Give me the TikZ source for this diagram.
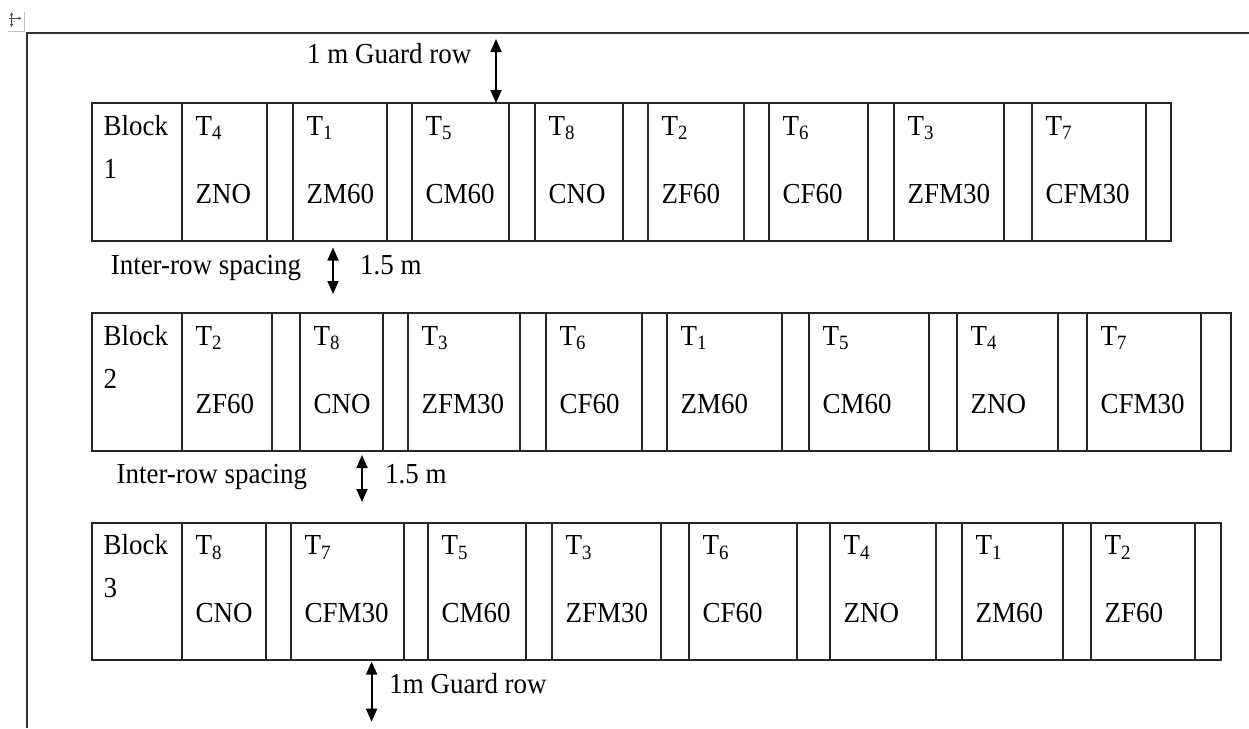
\documentclass[tikz,border=0pt]{standalone}
\usepackage{fontspec}
\setmainfont{Liberation Serif}
\usetikzlibrary{arrows.meta}
\begin{document}
\begin{tikzpicture}[x=1pt,y=-1pt,
  grid/.style={line width=1.6pt, draw=black!85},
  frame/.style={line width=1.6pt, draw=black!80},
  lab/.style={inner sep=0pt, anchor=base west, xscale=0.93,
    font=\fontsize{29}{34}\selectfont},
  dbl/.style={line width=1.8pt,
    {Triangle[length=13pt,width=11pt]}-{Triangle[length=13pt,width=11pt]}},
  handle/.style={line width=0.9pt, draw=black!70}]
\useasboundingbox (0,0) rectangle (1249,728);

% table move handle
\draw[line width=0.8pt, draw=black!25] (8.3,31.7) -- (24.3,31.7) -- (24.3,12);
\draw[handle, -{Triangle[length=3pt,width=3pt]}] (11.7,18.3) -- (11.7,12.3);
\draw[handle, -{Triangle[length=3pt,width=3pt]}] (11.7,18.3) -- (11.7,27);
\draw[handle, -{Triangle[length=3pt,width=3pt]}] (11.7,18.3) -- (21.5,18.3);
\draw[handle] (11.7,18.3) -- (8.5,18.3);

% outer frame
\draw[frame] (27,728) -- (27,33) -- (1249,33);

% ---------- Block 1 ----------
\draw[grid] (92,103) rectangle (1171,241);
\foreach \x in {182,267,293,387,412,509,535,623,648,744,769,868,894,1004,1032,1146}
  \draw[grid] (\x,103) -- (\x,241);
\node[lab] (b1a) at (103.5,135) {Block};
\node[lab] (b1b) at (103.5,178.3) {1};
\foreach \x/\t/\n [count=\i] in {182/4/ZNO,293/1/ZM60,412/5/CM60,535/8/CNO,
    648/2/ZF60,769/6/CF60,894/3/ZFM30,1032/7/CFM30}{
  \node[lab] (r1t\i) at (\x+13.5,135) {T\textsubscript{\t}};
  \node[lab] (r1n\i) at (\x+13.5,203.3) {\n};
}

% ---------- Block 2 ----------
\draw[grid] (92,313) rectangle (1231,451);
\foreach \x in {182,272,300,383,408,520,546,642,667,782,809,929,957,1058,1087,1201}
  \draw[grid] (\x,313) -- (\x,451);
\node[lab] (b2a) at (103.5,345) {Block};
\node[lab] (b2b) at (103.5,388.3) {2};
\foreach \x/\t/\n [count=\i] in {182/2/ZF60,300/8/CNO,408/3/ZFM30,546/6/CF60,
    667/1/ZM60,809/5/CM60,957/4/ZNO,1087/7/CFM30}{
  \node[lab] (r2t\i) at (\x+13.5,345) {T\textsubscript{\t}};
  \node[lab] (r2n\i) at (\x+13.5,413.3) {\n};
}

% ---------- Block 3 ----------
\draw[grid] (92,523) rectangle (1221,660);
\foreach \x in {182,266,291,404,428,526,552,661,689,797,830,936,962,1063,1091,1195}
  \draw[grid] (\x,523) -- (\x,660);
\node[lab] (b3a) at (103.5,554.4) {Block};
\node[lab] (b3b) at (103.5,597.7) {3};
\foreach \x/\t/\n [count=\i] in {182/8/CNO,291/7/CFM30,428/5/CM60,552/3/ZFM30,
    689/6/CF60,830/4/ZNO,962/1/ZM60,1091/2/ZF60}{
  \node[lab] (r3t\i) at (\x+13.5,554.4) {T\textsubscript{\t}};
  \node[lab] (r3n\i) at (\x+13.5,622.7) {\n};
}

% ---------- spacing annotations ----------
\coordinate (ga) at (496,39);
\coordinate (gb) at (496,103);
\draw[dbl] (ga) -- (gb);
\node[lab] (gtop) at (307,63.5) {1 m Guard row};

\coordinate (s1a) at (333,247.5);
\coordinate (s1b) at (333,294);
\draw[dbl] (s1a) -- (s1b);
\node[lab] (s1l) at (110.6,274.3) {Inter-row spacing};
\node[lab] (s1r) at (360,274.3) {1.5 m};

\coordinate (s2a) at (362,455);
\coordinate (s2b) at (362,502);
\draw[dbl] (s2a) -- (s2b);
\node[lab] (s2l) at (116.4,483.5) {Inter-row spacing};
\node[lab] (s2r) at (385,483.5) {1.5 m};

\coordinate (gc) at (371.6,661.5);
\coordinate (gd) at (371.6,721.7);
\draw[dbl] (gc) -- (gd);
\node[lab] (gbot) at (389.2,693.3) {1m Guard row};
\end{tikzpicture}
\end{document}
